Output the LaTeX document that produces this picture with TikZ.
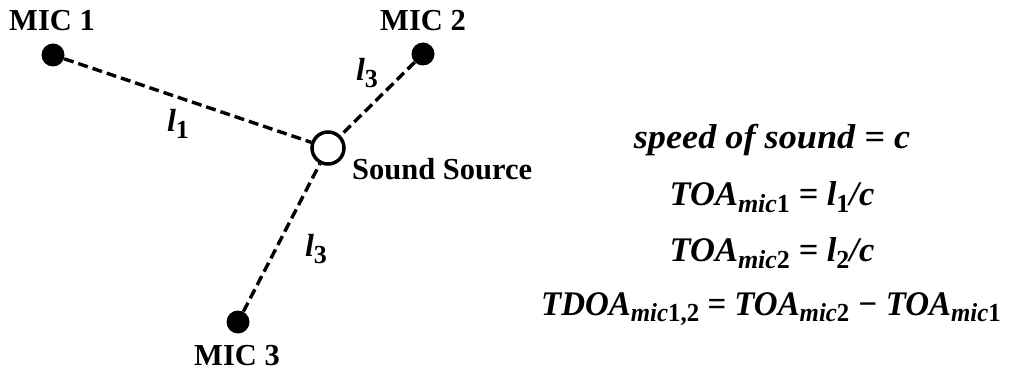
\documentclass[tikz,border=0pt]{standalone}
\usepackage{fontspec}
\setmainfont{Liberation Serif}
\newcommand{\lowsub}[1]{\raisebox{-6.5pt}{\fontsize{26}{28}\selectfont #1}}
\begin{document}
\begin{tikzpicture}[x=1pt,y=-1pt,
  mic/.style={circle,fill=black,inner sep=0pt,minimum size=23pt},
  src/.style={circle,draw=black,line width=3.5pt,fill=white,inner sep=0pt,minimum size=32pt},
  link/.style={line width=3.4pt,dash pattern=on 10pt off 5pt},
  lab/.style={font=\fontsize{30.5}{34}\selectfont\bfseries,inner sep=0pt},
  eq/.style={font=\fontsize{34.5}{40}\selectfont\bfseries\itshape,inner sep=0pt},
  len/.style={font=\fontsize{32}{36}\selectfont\bfseries\itshape,inner sep=0pt}]
\useasboundingbox (0,0) rectangle (1016,374);
\node[mic] (m1) at (53,55) {};
\node[mic] (m2) at (423,54) {};
\node[mic] (m3) at (238,322) {};
\node[src] (s) at (328,148) {};
\draw[link] (m1) -- (s);
\draw[link] (m2) -- (s);
\draw[link] (m3) -- (s);
\node[lab] (t1) at (52,21) {MIC 1};
\node[lab] (t2) at (423,21) {MIC 2};
\node[lab] (t3) at (237,356) {MIC 3};
\node[lab,anchor=west] (ts) at (352,169) {Sound Source};
\node[len] (l1) at (178,124) {l\lowsub{\upshape 1}};
\node[len] (l3a) at (367,73) {l\lowsub{\upshape 3}};
\node[len] (l3b) at (316,249) {l\lowsub{\upshape 3}};
\node[eq,xscale=1.05] (e1) at (772,140) {speed of sound = c};
\node[eq] (e2) at (772,197) {TOA\lowsub{mic\upshape 1} = l\lowsub{\upshape 1}/c};
\node[eq] (e3) at (772,253) {TOA\lowsub{mic\upshape 2} = l\lowsub{\upshape 2}/c};
\node[eq,xscale=0.955] (e4) at (771,309) {TDOA\lowsub{mic\upshape 1,2} = TOA\lowsub{mic\upshape 2} − TOA\lowsub{mic\upshape 1}};
\end{tikzpicture}
\end{document}
